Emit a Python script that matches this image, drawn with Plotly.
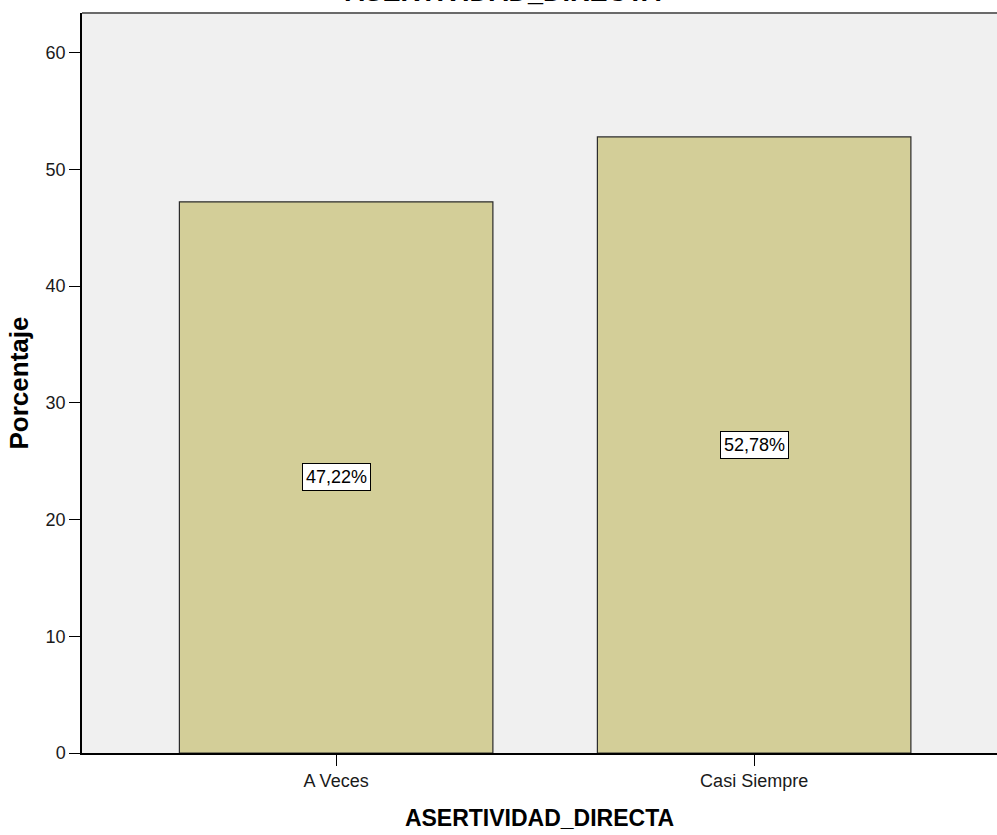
import plotly.graph_objects as go

categories = ["A Veces", "Casi Siempre"]
values = [47.22, 52.78]
labels = ["47,22%", "52,78%"]
y_ticks = [0, 10, 20, 30, 40, 50, 60]

font_family = "Liberation Sans, Arial, sans-serif"

fig = go.Figure()
fig.add_trace(go.Bar(
    x=categories, y=values,
    marker=dict(color="#d3ce98", line=dict(color="#2b2b2b", width=1.2)),
    width=0.75,
    hoverinfo="skip",
))

for c, v, t in zip(categories, values, labels):
    fig.add_annotation(
        x=c, y=v / 2, text=t, showarrow=False,
        font=dict(family=font_family, size=18, color="black"),
        bgcolor="white", bordercolor="black", borderwidth=1, borderpad=3,
    )

fig.add_annotation(
    xref="paper", yref="paper", x=(502.6 - 82) / 915, y=1.029,
    text="<b>ASERTIVIDAD_DIRECTA</b>", showarrow=False,
    font=dict(family=font_family, size=27, color="black"),
    yanchor="middle", xanchor="center",
)

fig.update_layout(
    width=997, height=835,
    margin=dict(l=82, r=0, t=13, b=82),
    paper_bgcolor="white",
    plot_bgcolor="#f0f0f0",
    showlegend=False,
    font=dict(family=font_family),
    shapes=[dict(type="line", xref="paper", yref="paper", x0=0, x1=1, y0=1, y1=1,
                 line=dict(color="#6a6a6a", width=2))],
)
fig.update_xaxes(
    type="category",
    range=[-0.608, 1.581],
    showline=True, linecolor="black", linewidth=1.5,
    ticks="outside", ticklen=11, tickcolor="black",
    tickfont=dict(size=18, color="#1a1a1a", family=font_family),
    title=dict(text="<b>ASERTIVIDAD_DIRECTA</b>", font=dict(size=23, color="black", family=font_family), standoff=20),
    showgrid=False,
)
fig.update_yaxes(
    range=[0, 63.4],
    tickvals=y_ticks,
    showline=True, linecolor="black", linewidth=1.5,
    ticks="outside", ticklen=11, tickcolor="black",
    tickfont=dict(size=18, color="#1a1a1a", family=font_family),
    title=dict(text="<b>Porcentaje</b>", font=dict(size=26, color="black", family=font_family), standoff=10),
    showgrid=False, zeroline=False,
)

fig.write_html(
    "out.html",
    config={"displayModeBar": False},
    post_script="document.body.style.margin='0';document.body.style.overflow='hidden';",
)
